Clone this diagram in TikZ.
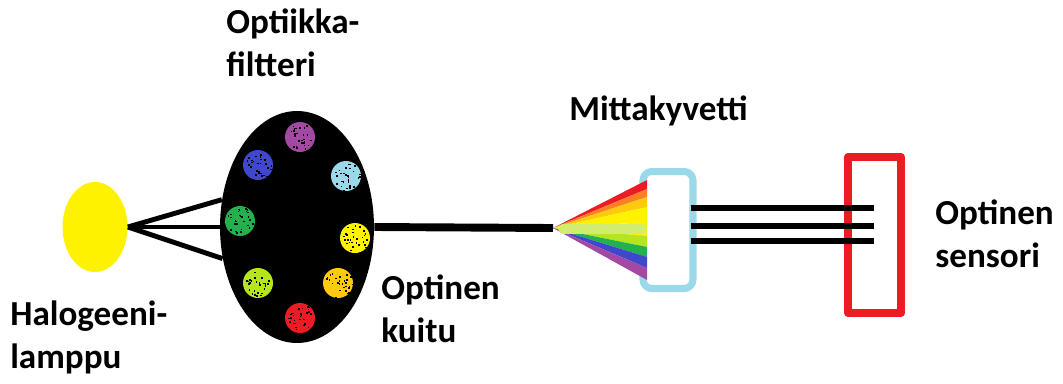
\documentclass[tikz,border=0pt]{standalone}
\usepackage{fontspec}
\setmainfont{Carlito}
\usetikzlibrary{shapes.geometric,calc}

\definecolor{paintred}{HTML}{ED1C24}
\definecolor{paintorange}{HTML}{FF7F27}
\definecolor{paintgold}{HTML}{FFC90E}
\definecolor{paintyellow}{HTML}{FFF200}
\definecolor{paintlime}{HTML}{B5E61D}
\definecolor{paintpale}{HTML}{D2EC6E}
\definecolor{paintgreen}{HTML}{22B14C}
\definecolor{paintblue}{HTML}{3F48CC}
\definecolor{paintsky}{HTML}{99D9EA}
\definecolor{paintpurple}{HTML}{A349A4}

\begin{document}
\begin{tikzpicture}[x=0.02cm, y=-0.02cm, line cap=round, line join=round,
    label/.style={font=\fontsize{20}{24}\selectfont\bfseries, align=left,
        anchor=base west, inner sep=0pt},
    fibre/.style={line width=2.8pt, line cap=butt},
    lamp/.style={ellipse, fill=paintyellow, minimum width=1.3cm, minimum height=1.8cm, inner sep=0pt},
    filterdisc/.style={ellipse, fill=black, minimum width=3.08cm, minimum height=4.64cm, inner sep=0pt},
    cuvette/.style={draw=paintsky, line width=4pt, rounded corners=5pt,
        minimum width=1.0cm, minimum height=2.34cm},
    sensor/.style={draw=paintred, line width=4.5pt, minimum width=1.06cm, minimum height=3.12cm}]

    \useasboundingbox (0,0) rectangle (1063,383);

    % ------------------------------------------------------------------
    % 1. Lamp and filter wheel
    % ------------------------------------------------------------------
    \node[lamp] (lamp) at (95,227) {};
    \node[filterdisc] (filter) at (297,227) {};

    \draw[fibre] (lamp.east) -- (filter.160);
    \draw[fibre] (lamp.east) -- (filter.west);
    \draw[fibre] (lamp.east) -- (filter.203);

    % filter spots, sprayed
    \pgfmathsetseed{11}
    \foreach \name/\col/\px/\py in {fa/paintpurple/300/137, fb/paintblue/258/165,
        fc/paintsky/346/176, fd/paintgreen/240/221, fe/paintyellow/355/238,
        ff/paintlime/258/283, fg/paintgold/338/283, fh/paintred/300/318} {
        \fill[\col] (\px,\py) circle (15);
        \foreach \k in {1,...,28} {
            \pgfmathsetmacro\ang{rnd*360}
            \pgfmathsetmacro\rad{14*sqrt(rnd)}
            \fill[black] ($(\px,\py)+(\ang:\rad)$) rectangle +(1.6,1.6);
        }
    }

    % ------------------------------------------------------------------
    % 2. Optical fibre and the spread spectrum
    % ------------------------------------------------------------------
    \coordinate (apex) at (553,228);
    \draw[line width=4.5pt, line cap=butt] (filter.east) -- (apex);

    \node[cuvette] (cuvette) at (668,230) {};

    \foreach \col/\ya/\yb in {paintred/180/189, paintorange/189/197,
        paintgold/197/207, paintyellow/207/222, paintyellow/222/236,
        paintlime/236/247, paintgreen/247/257, paintblue/257/268,
        paintpurple/268/280}
        \fill[\col] (apex) -- (647,\ya) -- (647,\yb) -- cycle;
    \draw[paintpale, line width=5.5pt] ($(apex)+(10,1)$) -- (642,229);

    % ------------------------------------------------------------------
    % 3. Sensor and its three fibres
    % ------------------------------------------------------------------
    \node[sensor] (sensor) at (874.5,235) {};

    \foreach \dy in {-22,-4,11}
        \draw[fibre, line width=2.9pt] ($(cuvette.east)+(-6,\dy)$) -- ($(sensor.center)+(-1,\dy-5)$);

    % ------------------------------------------------------------------
    % 4. Labels (anchored on the baseline of the last line)
    % ------------------------------------------------------------------
    \node[label] (filterlabel) at (226,76) {Optiikka-\\filtteri};
    \node[label] (cuvettelabel) at (569,120) {Mittakyvetti};
    \node[label] (sensorlabel) at (935,267) {Optinen\\sensori};
    \node[label] (fibrelabel) at (381,342) {Optinen\\kuitu};
    \node[label] (lamplabel) at (10,368) {Halogeeni-\\lamppu};

\end{tikzpicture}
\end{document}
